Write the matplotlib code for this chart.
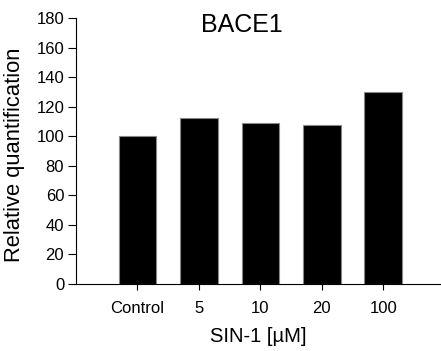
import matplotlib
matplotlib.use("Agg")
import matplotlib.pyplot as plt

plt.rcParams["font.family"] = ["Liberation Sans", "DejaVu Sans"]

categories = ["Control", "5", "10", "20", "100"]
values = [100.3, 112.3, 108.9, 107.6, 130.4]
yticks = [0, 20, 40, 60, 80, 100, 120, 140, 160, 180]

fig = plt.figure(figsize=(4.41, 3.51), dpi=100)
ax = fig.add_axes([76 / 441, 1 - 284 / 351, 1 - 76 / 441, (284 - 18.3) / 351])

x = list(range(len(categories)))
ax.bar(x, values, width=0.61, color="black", edgecolor="#888888", linewidth=0.8)

ax.set_xlim(-1, 4.94)
ax.set_ylim(0, 180)
ax.set_yticks(yticks)
ax.set_xticks(x)
ax.set_xticklabels(categories)
ax.tick_params(axis="both", direction="out", width=0.8, labelsize=12)
ax.tick_params(axis="x", length=4, pad=8)
ax.tick_params(axis="y", length=5.5, pad=3)

for side in ["top", "right"]:
    ax.spines[side].set_visible(False)
ax.spines["left"].set_linewidth(0.8)
ax.spines["bottom"].set_linewidth(0.8)

ax.text(0.454, 0.975, "BACE1", transform=ax.transAxes, ha="center", va="center",
        fontsize=18)
ax.set_ylabel("Relative quantification", fontsize=15.8)
ax.yaxis.set_label_coords(-(76 - 15) / 365, (284 - 155) / 265.7)
ax.set_xlabel("SIN-1 [µM]", fontsize=14.5)
ax.xaxis.set_label_coords(0.5, -(336.7 - 284) / 265.7)
ax.xaxis.label.set_va("center")
ax.yaxis.label.set_va("center")

fig.savefig("out.png", dpi=100)
